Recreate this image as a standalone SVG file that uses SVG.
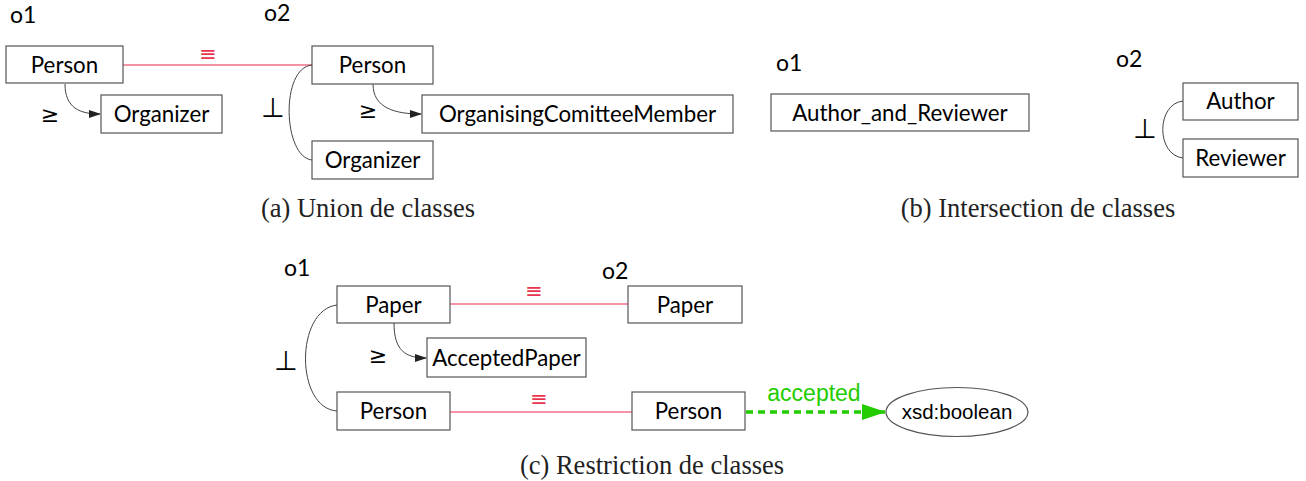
<svg xmlns="http://www.w3.org/2000/svg" width="1306" height="481" viewBox="0 0 1306 481">
<style>
.box{fill:#fff;stroke:#555;stroke-width:1.2}
.t{font-family:Lato,"Liberation Sans",sans-serif;font-size:22.3px;fill:#000;text-anchor:middle}
.lbl{font-family:Lato,"Liberation Sans",sans-serif;font-size:23px;fill:#000}
.sym{font-family:"DejaVu Sans",sans-serif;font-size:22px;fill:#000;text-anchor:middle}
.perp{font-family:"DejaVu Sans",sans-serif;font-size:27px;fill:#000;text-anchor:middle}
.eq{font-family:"DejaVu Sans",sans-serif;font-size:21px;fill:#e8344e;text-anchor:middle}
.cap{font-family:"Liberation Serif",serif;font-size:26.5px;fill:#222;text-anchor:middle}
.red{stroke:#f07088;stroke-width:1.5;fill:none}
.sub{stroke:#444;stroke-width:1;fill:none}
.ah{fill:#222}
</style>
<defs>
<marker id="arr" markerWidth="12" markerHeight="8" refX="11" refY="4" orient="auto" markerUnits="userSpaceOnUse">
<path d="M0,0 L12,4 L0,8 Z" class="ah"/>
</marker>
<marker id="garr" markerWidth="24" markerHeight="16" refX="23" refY="8" orient="auto" markerUnits="userSpaceOnUse">
<path d="M0,0 L24,8 L0,16 Z" fill="#22cc00"/>
</marker>
</defs>

<g id="labels">
<text class="lbl" x="10" y="23">o1</text>
<text class="lbl" x="264" y="21">o2</text>
<text class="lbl" x="776" y="71">o1</text>
<text class="lbl" x="1116" y="67">o2</text>
<text class="lbl" x="284" y="276">o1</text>
<text class="lbl" x="602" y="279">o2</text>
</g>

<g id="connectors">
<line class="red" x1="123" y1="65" x2="312" y2="65"/>
<text class="eq" x="208" y="61">≡</text>
<path class="sub" d="M65,84 C65,108 80,114 100,114" marker-end="url(#arr)"/>
<text class="sym" x="50" y="122">≥</text>
<path class="sub" d="M373,84 C373,108 395,114 421,114" marker-end="url(#arr)"/>
<text class="sym" x="368" y="118">≥</text>
<path class="sub" d="M312,65 C280,68 283,157 312,160"/>
<text class="perp" x="273" y="117">⊥</text>
<path class="sub" d="M1183,101 C1156,104 1156,155 1183,158"/>
<text class="perp" x="1145" y="138">⊥</text>
<line class="red" x1="450" y1="304" x2="628" y2="304"/>
<text class="eq" x="534" y="298">≡</text>
<line class="red" x1="450" y1="412" x2="632" y2="412"/>
<text class="eq" x="539" y="406">≡</text>
<path class="sub" d="M394,323 C394,350 405,358 426,358" marker-end="url(#arr)"/>
<text class="sym" x="378" y="363">≥</text>
<path class="sub" d="M337,305 C295,310 295,408 337,411"/>
<text class="perp" x="286" y="370">⊥</text>
<line x1="746" y1="412" x2="885" y2="412" stroke="#22cc00" stroke-width="3.5" stroke-dasharray="7,5" marker-end="url(#garr)"/>
<text x="814" y="401" font-family="Liberation Sans,Arial,sans-serif" font-size="23" fill="#22cc00" text-anchor="middle">accepted</text>
</g>

<g id="a_o1_person"><rect class="box" x="6" y="46" width="117" height="37"/><text class="t" x="64.5" y="73">Person</text></g>
<g id="a_o1_organizer"><rect class="box" x="101" y="95" width="121" height="38"/><text class="t" x="161.5" y="122">Organizer</text></g>
<g id="a_o2_person"><rect class="box" x="312" y="46" width="121" height="38"/><text class="t" x="372.5" y="73">Person</text></g>
<g id="a_o2_ocm"><rect class="box" x="422" y="95" width="311" height="38"/><text class="t" x="577.5" y="122">OrganisingComitteeMember</text></g>
<g id="a_o2_organizer"><rect class="box" x="312" y="141" width="121" height="38"/><text class="t" x="372.5" y="168">Organizer</text></g>

<g id="b_o1_ar"><rect class="box" x="771" y="94" width="258" height="37"/><text class="t" x="900" y="121">Author_and_Reviewer</text></g>
<g id="b_o2_author"><rect class="box" x="1183" y="83" width="115" height="37"/><text class="t" x="1240.5" y="109">Author</text></g>
<g id="b_o2_reviewer"><rect class="box" x="1183" y="139" width="115" height="38"/><text class="t" x="1240.5" y="166">Reviewer</text></g>

<g id="c_o1_paper"><rect class="box" x="337" y="286" width="113" height="37"/><text class="t" x="393.5" y="313">Paper</text></g>
<g id="c_o1_accepted"><rect class="box" x="427" y="338" width="159" height="39"/><text class="t" x="506.5" y="366">AcceptedPaper</text></g>
<g id="c_o1_person"><rect class="box" x="337" y="392" width="113" height="38"/><text class="t" x="393.5" y="419">Person</text></g>
<g id="c_o2_paper"><rect class="box" x="628" y="286" width="114" height="37"/><text class="t" x="685" y="313">Paper</text></g>
<g id="c_o2_person"><rect class="box" x="632" y="392" width="113" height="38"/><text class="t" x="688.5" y="419">Person</text></g>
<g id="c_bool"><ellipse cx="957" cy="412" rx="71" ry="24.5" fill="#fff" stroke="#555" stroke-width="1.2"/><text x="957" y="419" font-family="Liberation Sans,Arial,sans-serif" font-size="20.5" text-anchor="middle" fill="#000">xsd:boolean</text></g>

<g id="captions">
<text class="cap" x="368" y="217">(a) Union de classes</text>
<text class="cap" x="1038" y="217">(b) Intersection de classes</text>
<text class="cap" x="652" y="474">(c) Restriction de classes</text>
</g>
</svg>
